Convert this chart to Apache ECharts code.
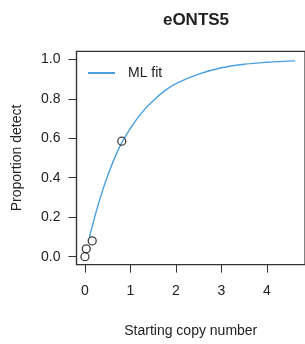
<!DOCTYPE html>
<html>
<head>
<meta charset="utf-8">
<script src="https://cdn.jsdelivr.net/npm/echarts@6/dist/echarts.min.js"></script>
<style>
  html, body { margin: 0; padding: 0; background: #fff; }
  #chart { width: 305px; height: 344px; }
</style>
</head>
<body>
<div id="chart"></div>
<script>
// observed detection proportions
const obsX = [0, 0.03, 0.16, 0.81]
const obsY = [0, 0.04, 0.08, 0.585]

// ML fit curve
const fitX = [0.1, 0.3, 0.5, 0.75, 1.0, 1.25, 1.5, 1.75, 2.0, 2.5, 3.0, 3.5, 4.0, 4.62]
const fitY = [0.10, 0.27, 0.41, 0.55, 0.65, 0.73, 0.79, 0.84, 0.877, 0.925, 0.957, 0.975, 0.985, 0.992]

const xTicks = [0, 1, 2, 3, 4]
const yTicks = [0, 0.2, 0.4, 0.6, 0.8, 1.0]

const font = 'Liberation Sans, Arial, sans-serif'
const ink = '#222'
const blue = '#4a9fdf'

const chart = echarts.init(document.getElementById('chart'))

chart.setOption({
  animation: false,
  title: {
    text: 'eONTS5',
    left: 191,
    top: 7,
    textAlign: 'center',
    textStyle: { fontFamily: font, fontSize: 17, fontWeight: 'bold', color: ink }
  },
  legend: {
    left: 83,
    top: 61,
    itemWidth: 35,
    itemHeight: 2,
    data: [{ name: 'ML fit', icon: 'path://M0,0L27,0L27,2L0,2ZM35,0L35,2' }],
    textStyle: { fontFamily: font, fontSize: 14, color: ink }
  },
  grid: {
    left: 76.5,
    top: 51.4,
    width: 230,
    height: 213.2,
    show: true,
    borderColor: '#333',
    borderWidth: 1.2,
    containLabel: false
  },
  xAxis: {
    type: 'value',
    min: -0.185,
    max: -0.185 + 230 / 45.8,
    name: 'Starting copy number',
    nameLocation: 'middle',
    nameGap: 60,
    nameTextStyle: { fontFamily: font, fontSize: 14, color: ink },
    splitLine: { show: false },
    axisLine: { show: true, onZero: false, lineStyle: { color: '#333', width: 1.2 } },
    axisTick: { show: true, length: 8, customValues: xTicks, lineStyle: { color: '#333' } },
    axisLabel: {
      customValues: xTicks,
      margin: 20,
      fontFamily: font, fontSize: 14, color: ink
    }
  },
  yAxis: {
    type: 'value',
    min: -0.04,
    max: 1.04,
    name: 'Proportion detect',
    nameLocation: 'middle',
    nameGap: 52,
    nameTextStyle: { fontFamily: font, fontSize: 14, color: ink },
    splitLine: { show: false },
    axisLine: { show: true, onZero: false, lineStyle: { color: '#333', width: 1.2 } },
    axisTick: { show: true, length: 8, customValues: yTicks, lineStyle: { color: '#333' } },
    axisLabel: {
      customValues: yTicks,
      margin: 16,
      formatter: v => v.toFixed(1),
      fontFamily: font, fontSize: 14, color: ink
    }
  },
  series: [
    {
      name: 'ML fit',
      type: 'line',
      smooth: 0.4,
      symbol: 'none',
      lineStyle: { color: blue, width: 1.4 },
      itemStyle: { color: blue },
      data: fitX.map((x, i) => [x, fitY[i]]),
      z: 2
    },
    {
      name: 'obs',
      type: 'scatter',
      symbol: 'circle',
      symbolSize: 8,
      itemStyle: { color: 'rgba(0,0,0,0)', borderColor: '#111', borderWidth: 1.3 },
      data: obsX.map((x, i) => [x, obsY[i]]),
      z: 3
    }
  ]
})
</script>
</body>
</html>
